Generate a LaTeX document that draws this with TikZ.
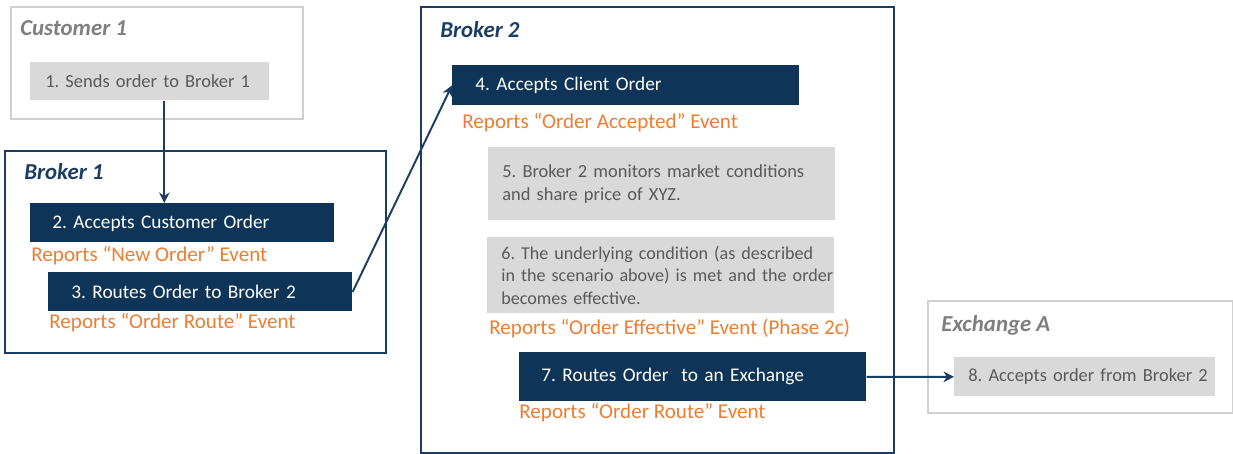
\documentclass[tikz,border=0pt]{standalone}
\usepackage{fontspec}
\setmainfont{Carlito}
\frenchspacing
\usetikzlibrary{positioning, arrows.meta}
\definecolor{navy}{HTML}{0E3558}
\definecolor{frameblue}{HTML}{1B3D62}
\definecolor{evorange}{HTML}{ED7D31}
\definecolor{boxgray}{HTML}{D9D9D9}
\definecolor{framegray}{HTML}{D0D0D0}
\definecolor{txtgray}{HTML}{595959}
\definecolor{titlegray}{HTML}{7F7F7F}
\tikzset{
  partyframe/.style={draw=frameblue, line width=1.1pt, anchor=north west, inner sep=0pt},
  sideframe/.style={draw=framegray, line width=1.1pt, anchor=north west, inner sep=0pt},
  partytitle/.style={anchor=west, inner sep=0pt, text=frameblue, font=\fontsize{13}{15}\selectfont\bfseries\itshape},
  sidetitle/.style={anchor=west, inner sep=0pt, text=titlegray, font=\fontsize{13}{15}\selectfont\bfseries\itshape},
  stepnavy/.style={fill=navy, text=white, anchor=north west, inner xsep=0.44cm, inner ysep=0pt, align=left, font=\fontsize{11}{13}\selectfont},
  stepgray/.style={fill=boxgray, text=txtgray, anchor=north west, inner xsep=0.28cm, inner ysep=0pt, align=left, font=\fontsize{10.5}{13}\selectfont},
  report/.style={anchor=west, inner sep=0pt, text=evorange, font=\fontsize{12}{14}\selectfont},
  flow/.style={-{Stealth[length=6pt, width=6pt]}, line width=1.1pt, frameblue}
}

\begin{document}
\begin{tikzpicture}[x=0.02cm, y=-0.02cm]
    \useasboundingbox (0,0) rectangle (1233,453);
    % parties
    \node[sideframe, minimum width=5.84cm, minimum height=2.24cm] (customer) at (10,6) {};
    \node[partyframe, minimum width=7.62cm, minimum height=4.04cm] (brokerone) at (4,150) {};
    \node[partyframe, minimum width=9.46cm, minimum height=8.92cm] (brokertwo) at (420,6) {};
    \node[sideframe, minimum width=6.1cm, minimum height=2.24cm] (exchange) at (927,300) {};
    \node[sidetitle]  (customert)  at (20,28)  {Customer 1};
    \node[partytitle] (brokeronet) at (24,172) {Broker 1};
    \node[partytitle] (brokertwot) at (440,30) {Broker 2};
    \node[sidetitle]  (exchanget)  at (941,325) {Exchange A};
    % steps
    \node[stepgray, text width=4.18cm, minimum height=0.76cm, inner xsep=0.3cm] (sends) at (30,62) {\mbox{1. Sends order to Broker 1}};
    \node[stepnavy, text width=5.2cm, minimum height=0.78cm] (custorder) at (30,203) {\mbox{2. Accepts Customer Order}};
    \node[stepnavy, text width=5.16cm, minimum height=0.78cm, inner xsep=0.46cm] (routeb) at (48,272) {\mbox{3. Routes Order to Broker 2}};
    \node[stepnavy, text width=6.02cm, minimum height=0.8cm, inner xsep=0.46cm] (clientorder) at (452,65) {\mbox{4. Accepts Client Order}};
    \node[stepgray, text width=6.38cm, minimum height=1.46cm] (monitor) at (488,147) {\mbox{5. Broker 2 monitors market conditions}\\\mbox{and share price of XYZ.}};
    \node[stepgray, text width=6.38cm, minimum height=1.52cm, font=\fontsize{10.3}{12.8}\selectfont] (condition) at (487,237) {\mbox{6. The underlying condition (as described}\\\mbox{in the scenario above) is met and the order}\\\mbox{becomes effective.}};
    \node[stepnavy, text width=6.06cm, minimum height=0.98cm] (routex) at (519,352) {\mbox{7. Routes Order\ \ to an Exchange}};
    \node[stepgray, text width=4.66cm, minimum height=0.78cm] (exaccept) at (954,357) {\mbox{8. Accepts order from Broker 2}};
    % reported events
    \node[report] (newev)       at (31,256)  {Reports “New Order” Event};
    \node[report] (routeev)     at (49,323)  {Reports “Order Route” Event};
    \node[report] (acceptev)    at (462,123) {Reports “Order Accepted” Event};
    \node[report] (effectiveev) at (489,328) {Reports “Order Effective” Event (Phase 2c)};
    \node[report] (exrouteev)   at (519,413) {Reports “Order Route” Event};
    % order flow
    \draw[flow] ([xshift=0.29cm]sends.south) -- ([xshift=0.29cm]sends.south |- custorder.north);
    \draw[flow] (routeb.east) -- (clientorder.west);
    \draw[flow] (routex.east) -- (exaccept.west);
\end{tikzpicture}
\end{document}
